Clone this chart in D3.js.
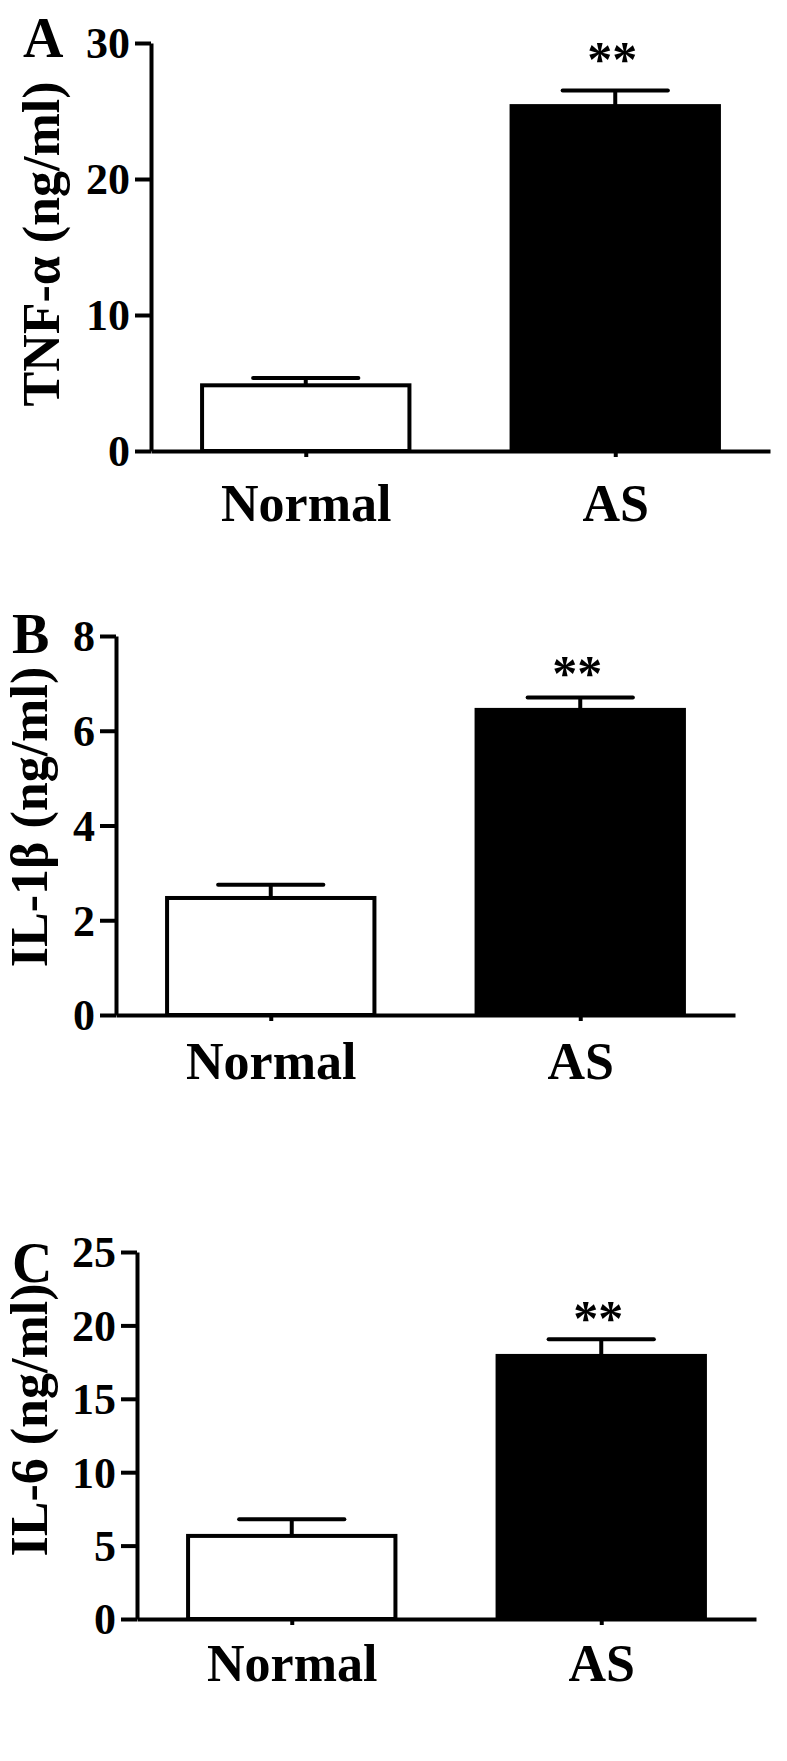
<!DOCTYPE html>
<html lang="en">

<head>
  <meta charset="UTF-8" />
  <title>Cytokine levels, Normal vs AS</title>
  <script src="https://d3js.org/d3.v7.min.js"></script>
  <style>
    body {
      margin: 0;
      background: #fff;
    }

    svg text {
      font-family: "Liberation Serif", "Times New Roman", serif;
      font-weight: bold;
      fill: #000;
    }

    .axis path,
    .axis line {
      stroke: #000;
      stroke-width: 4px;
    }
  </style>
</head>

<body>
  <svg width="787" height="1761"></svg>

  <script>
    // data (mean and upper error bar)
    const groups = ["Normal", "AS"];
    const tnfMeans = [4.83, 25.36];
    const tnfErrors = [0.54, 1.14];
    const tnfTicks = [0, 10, 20, 30];
    const il1bMeans = [2.47, 6.44];
    const il1bErrors = [0.28, 0.26];
    const il1bTicks = [0, 2, 4, 6, 8];
    const il6Means = [5.66, 17.92];
    const il6Errors = [1.13, 1.13];
    const il6Ticks = [0, 5, 10, 15, 20, 25];
    const stars = ["", "**"];

    const panels = [
      { letter: "A", title: "TNF-α (ng/ml)", means: tnfMeans, errors: tnfErrors, ticks: tnfTicks,
        axisX: 151, y0: 451, yTop: 43, letterX: 23, letterY: 57, titleX: 59, titleY: 244, labelPad: 27, starGap: 15 },
      { letter: "B", title: "IL-1β (ng/ml)", means: il1bMeans, errors: il1bErrors, ticks: il1bTicks,
        axisX: 116, y0: 1015, yTop: 636, letterX: 12, letterY: 653, titleX: 47, titleY: 817, labelPad: 21, starGap: 8 },
      { letter: "C", title: "IL-6 (ng/ml)", means: il6Means, errors: il6Errors, ticks: il6Ticks,
        axisX: 137, y0: 1619, yTop: 1252, letterX: 12, letterY: 1282, titleX: 47, titleY: 1420, labelPad: 19, starGap: 4 }
    ];

    const svg = d3.select("svg");
    const axisLength = 619;

    panels.forEach(p => {
      const g = svg.append("g");

      const x = d3.scalePoint()
        .domain(groups)
        .range([p.axisX, p.axisX + axisLength])
        .padding(0.5);
      const barW = x.step() * 0.67;
      const capW = x.step() * 0.34;

      const y = d3.scaleLinear()
        .domain([0, d3.max(p.ticks)])
        .range([p.y0, p.yTop]);

      const rows = groups.map((name, i) => ({ name, mean: p.means[i], err: p.errors[i], star: stars[i] }));

      // error bars (upper only)
      g.selectAll(".err-v")
        .data(rows)
        .enter()
        .append("line")
        .attr("x1", d => x(d.name))
        .attr("x2", d => x(d.name))
        .attr("y1", d => y(d.mean))
        .attr("y2", d => y(d.mean + d.err))
        .attr("stroke", "#000")
        .attr("stroke-width", 4);
      g.selectAll(".err-cap")
        .data(rows)
        .enter()
        .append("line")
        .attr("x1", d => x(d.name) - capW / 2)
        .attr("x2", d => x(d.name) + capW / 2)
        .attr("y1", d => y(d.mean + d.err))
        .attr("y2", d => y(d.mean + d.err))
        .attr("stroke", "#000")
        .attr("stroke-width", 4)
        .attr("stroke-linecap", "round");

      // bars
      g.selectAll(".bar")
        .data(rows)
        .enter()
        .append("rect")
        .attr("x", d => x(d.name) - barW / 2)
        .attr("y", d => y(d.mean))
        .attr("width", barW)
        .attr("height", d => p.y0 - y(d.mean))
        .attr("fill", (d, i) => i === 0 ? "#fff" : "#000")
        .attr("stroke", "#000")
        .attr("stroke-width", 4);

      // significance marks
      g.selectAll(".star")
        .data(rows.filter(d => d.star))
        .enter()
        .append("text")
        .attr("x", d => x(d.name) - 3)
        .attr("y", d => y(d.mean + d.err) - p.starGap)
        .attr("text-anchor", "middle")
        .style("font-size", "50px")
        .text(d => d.star);

      // y axis
      const yAxis = g.append("g")
        .attr("class", "axis")
        .attr("transform", `translate(${p.axisX},0)`)
        .call(d3.axisLeft(y).tickValues(p.ticks).tickSize(16).tickSizeOuter(0).tickPadding(5).tickFormat(d3.format("d")));
      yAxis.selectAll("text").style("font-size", "44px").attr("dy", "0.34em");

      // x axis
      const xAxis = g.append("g")
        .attr("class", "axis")
        .attr("transform", `translate(0,${p.y0})`)
        .call(d3.axisBottom(x).tickSize(6).tickSizeOuter(0).tickPadding(p.labelPad));
      xAxis.selectAll("text").style("font-size", "52px");

      // axis title
      g.append("text")
        .attr("transform", `translate(${p.titleX},${p.titleY}) rotate(-90)`)
        .attr("text-anchor", "middle")
        .style("font-size", "52px")
        .text(p.title);

      // panel letter
      g.append("text")
        .attr("x", p.letterX)
        .attr("y", p.letterY)
        .style("font-size", "56px")
        .text(p.letter);
    });
  </script>
</body>

</html>
